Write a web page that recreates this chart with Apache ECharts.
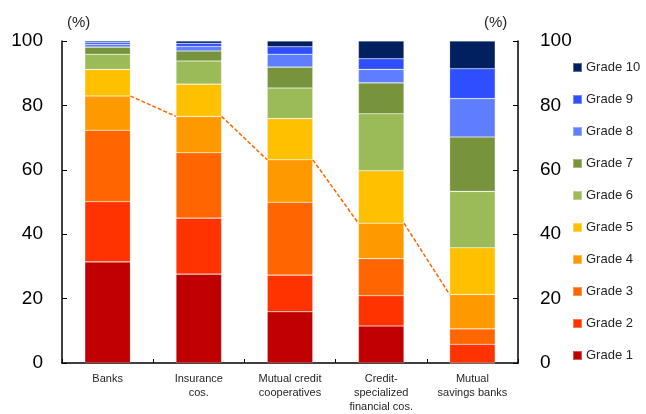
<!DOCTYPE html>
<html>
<head>
<meta charset="utf-8">
<script src="https://cdn.jsdelivr.net/npm/echarts@6/dist/echarts.min.js"></script>
<style>
  html, body { margin: 0; padding: 0; background: #fff; }
  #chart { width: 646px; height: 414px; }
</style>
</head>
<body>
<div id="chart"></div>
<script>
const categories = ['Banks', 'Insurance\ncos.', 'Mutual credit\ncooperatives', 'Credit-\nspecialized\nfinancial cos.', 'Mutual\nsavings banks'];
const gradeNames = ['Grade 1', 'Grade 2', 'Grade 3', 'Grade 4', 'Grade 5', 'Grade 6', 'Grade 7', 'Grade 8', 'Grade 9', 'Grade 10'];
const grade1 = [31.4, 27.6, 15.9, 11.5, 0];
const grade2 = [18.7, 17.4, 11.4, 9.4, 5.8];
const grade3 = [22.2, 20.3, 22.6, 11.5, 4.8];
const grade4 = [10.6, 11.3, 13.2, 11.0, 10.7];
const grade5 = [8.3, 10.0, 12.8, 16.3, 14.5];
const grade6 = [4.7, 7.2, 9.5, 17.7, 17.5];
const grade7 = [2.2, 3.1, 6.5, 9.6, 16.9];
const grade8 = [0.9, 1.4, 4.0, 4.2, 11.9];
const grade9 = [0.6, 1.0, 2.3, 3.3, 9.3];
const grade10 = [0.4, 0.7, 1.8, 5.5, 8.6];
const yTicks = [0, 20, 40, 60, 80, 100];

const gradeData = [grade1, grade2, grade3, grade4, grade5, grade6, grade7, grade8, grade9, grade10];
const colors = ['#C00000', '#FF3300', '#FF6600', '#FF9900', '#FFC000', '#9BBB59', '#77933C', '#5F7DFF', '#2E4FFF', '#002060'];

// top of grade 1-4 block, joined by the dashed series line
const upTo4 = categories.map((c, i) => grade1[i] + grade2[i] + grade3[i] + grade4[i]);
const linkData = [];
for (let i = 0; i < upTo4.length - 1; i++) {
    linkData.push([i, upTo4[i], upTo4[i + 1]]);
}

const font = 'Liberation Sans, Arial, sans-serif';
const chart = echarts.init(document.getElementById('chart'));

const series = gradeData.map((d, k) => ({
    name: gradeNames[k],
    type: 'bar',
    stack: 'all',
    barWidth: '50%',
    data: d,
    itemStyle: { color: colors[k], borderColor: 'rgba(255,255,255,0.35)', borderWidth: 0.6 },
    emphasis: { disabled: true }
}));

series.push({
    type: 'custom',
    data: linkData,
    z: 5,
    silent: true,
    encode: { x: 0, y: 1 },
    renderItem: function (params, api) {
        const p1 = api.coord([api.value(0), api.value(1)]);
        const p2 = api.coord([api.value(0) + 1, api.value(2)]);
        const half = api.size([1, 0])[0] * 0.25;
        return {
            type: 'line',
            shape: { x1: p1[0] + half, y1: p1[1], x2: p2[0] - half, y2: p2[1] },
            style: { stroke: '#FF6600', lineWidth: 1.5, lineDash: [4, 2] }
        };
    }
});

chart.setOption({
    animation: false,
    textStyle: { fontFamily: font },
    grid: { left: 62, right: 128, top: 41, bottom: 51 },
    legend: {
        orient: 'vertical',
        left: 567,
        top: 56,
        itemWidth: 9,
        itemHeight: 9,
        itemGap: 19,
        icon: 'rect',
        data: gradeNames.slice().reverse(),
        textStyle: { fontSize: 13, color: '#262626', fontFamily: font, padding: [0, 0, 0, -1] }
    },
    graphic: [
        { type: 'text', left: 67, top: 15, style: { text: '(%)', fontSize: 15, fill: '#262626', fontFamily: font } },
        { type: 'text', left: 484, top: 15, style: { text: '(%)', fontSize: 15, fill: '#262626', fontFamily: font } }
    ],
    xAxis: {
        type: 'category',
        data: categories,
        boundaryGap: true,
        axisLine: { lineStyle: { color: '#000', width: 1.5 } },
        axisTick: { show: true, inside: true, length: 4, lineStyle: { color: '#000' } },
        axisLabel: { fontSize: 11, color: '#262626', lineHeight: 14, margin: 9, fontFamily: font, interval: 0 }
    },
    yAxis: [
        {
            type: 'value', min: yTicks[0], max: yTicks[yTicks.length - 1], interval: 20,
            axisLine: { show: true, lineStyle: { color: '#000', width: 1.5 } },
            axisTick: { show: true, inside: true, length: 5, lineStyle: { color: '#000' } },
            splitLine: { show: false },
            axisLabel: { fontSize: 19, color: '#000', margin: 19, fontFamily: font }
        },
        {
            type: 'value', position: 'right', min: yTicks[0], max: yTicks[yTicks.length - 1], interval: 20,
            axisLine: { show: true, lineStyle: { color: '#000', width: 1.5 } },
            axisTick: { show: true, inside: true, length: 5, lineStyle: { color: '#000' } },
            splitLine: { show: false },
            axisLabel: { fontSize: 19, color: '#000', margin: 22, fontFamily: font }
        }
    ],
    series: series
});
</script>
</body>
</html>
